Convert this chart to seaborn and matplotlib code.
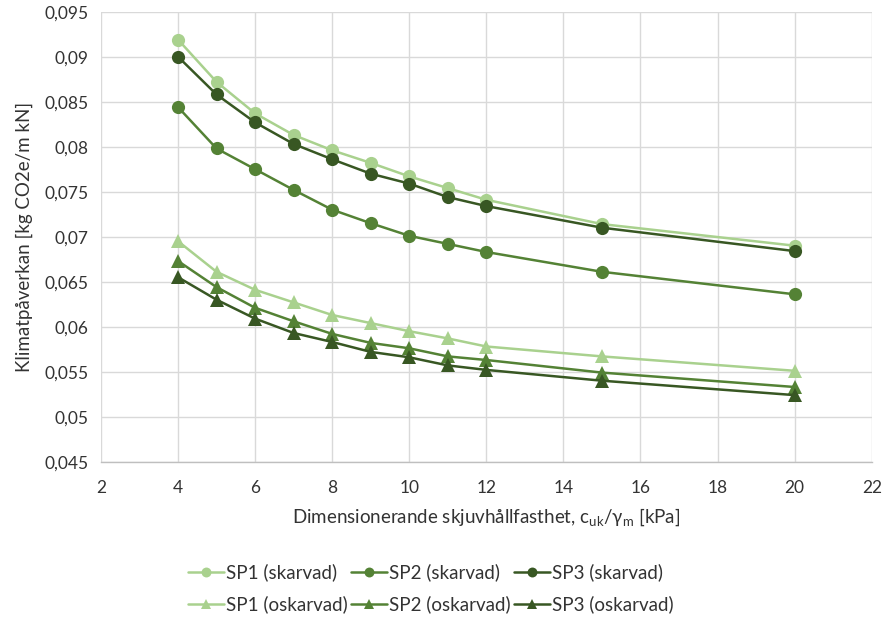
import matplotlib
matplotlib.use("Agg")
import matplotlib.pyplot as plt
from matplotlib.ticker import FuncFormatter
import pandas as pd
import seaborn as sns

# Shear strength c_uk/gamma_m [kPa]
x_vals = [4, 5, 6, 7, 8, 9, 10, 11, 12, 15, 20]

# Climate impact [kg CO2e/m kN]
sp1_skarvad = [0.0919, 0.0872, 0.0837, 0.0813, 0.0796, 0.0782, 0.0767, 0.0754, 0.0741, 0.0714, 0.0690]
sp2_skarvad = [0.0844, 0.0798, 0.0775, 0.0752, 0.0730, 0.0715, 0.0701, 0.0692, 0.0683, 0.0661, 0.0636]
sp3_skarvad = [0.0900, 0.0858, 0.0827, 0.0803, 0.0786, 0.0770, 0.0759, 0.0744, 0.0734, 0.0710, 0.0684]
sp1_oskarvad = [0.0695, 0.0661, 0.0641, 0.0627, 0.0613, 0.0604, 0.0595, 0.0587, 0.0578, 0.0567, 0.0551]
sp2_oskarvad = [0.0673, 0.0644, 0.0621, 0.0606, 0.0592, 0.0582, 0.0576, 0.0567, 0.0563, 0.0549, 0.0533]
sp3_oskarvad = [0.0655, 0.0630, 0.0609, 0.0593, 0.0583, 0.0572, 0.0566, 0.0557, 0.0552, 0.0540, 0.0524]

series_names = [
    "SP1 (skarvad)", "SP1 (oskarvad)",
    "SP2 (skarvad)", "SP2 (oskarvad)",
    "SP3 (skarvad)", "SP3 (oskarvad)",
]
series_values = [sp1_skarvad, sp1_oskarvad, sp2_skarvad, sp2_oskarvad, sp3_skarvad, sp3_oskarvad]

x_ticks = [2, 4, 6, 8, 10, 12, 14, 16, 18, 20, 22]
y_ticks = [0.045, 0.05, 0.055, 0.06, 0.065, 0.07, 0.075, 0.08, 0.085, 0.09, 0.095]

light, mid, dark = "#A9D18E", "#548235", "#385723"
colors = [light, light, mid, mid, dark, dark]
markers = ["o", "^", "o", "^", "o", "^"]

sns.set_theme(style="white")
plt.rcParams["font.family"] = ["Lato", "DejaVu Sans"]
text_color = "#333333"

fig = plt.figure(figsize=(8.85, 6.18), dpi=100)
ax = fig.add_axes([0.114, 0.2529, 0.871, 0.7282])

for name, vals, col, mk in zip(series_names, series_values, colors, markers):
    df = pd.DataFrame({"x": x_vals, "y": vals})
    sns.lineplot(data=df, x="x", y="y", ax=ax, color=col, marker=mk,
                 markersize=9.5 if mk == "o" else 10, markeredgewidth=0,
                 linewidth=1.8, label=name)

ax.set_xlim(2, 22)
ax.set_ylim(0.045, 0.095)
ax.set_xticks(x_ticks)
ax.set_yticks(y_ticks)


def comma_fmt(v, pos):
    s = ("%.3f" % v).rstrip("0").rstrip(".")
    return s.replace(".", ",")


ax.yaxis.set_major_formatter(FuncFormatter(comma_fmt))
ax.xaxis.set_major_formatter(FuncFormatter(lambda v, p: "%d" % v))
ax.grid(True, color="#D9D9D9", linewidth=1.0)
ax.set_axisbelow(True)
for side in ["top", "right", "left"]:
    ax.spines[side].set_visible(False)
ax.spines["bottom"].set_color("#BFBFBF")
ax.spines["bottom"].set_linewidth(1.0)
ax.tick_params(axis="both", length=0, labelsize=12.5, colors=text_color)
ax.tick_params(axis="x", pad=13)
ax.tick_params(axis="y", pad=9)

ax.set_xlabel(r"Dimensionerande skjuvhållfasthet, c$_{\mathregular{uk}}$/γ$_{\mathregular{m}}$ [kPa]",
              fontsize=13.5, color=text_color, labelpad=8)
ax.set_ylabel("Klimatpåverkan [kg CO2e/m kN]", fontsize=13.5, color=text_color, labelpad=8)

handles, labels = ax.get_legend_handles_labels()
ax.get_legend().remove()
fig.legend(handles, labels, loc="center", bbox_to_anchor=(0.487, 0.0477), ncol=3,
           frameon=False, fontsize=13.5, handlelength=1.9, handletextpad=0.15,
           columnspacing=0.15, labelspacing=0.75, markerscale=0.75,
           labelcolor=text_color)

fig.savefig("out.png", dpi=100, facecolor="white")
